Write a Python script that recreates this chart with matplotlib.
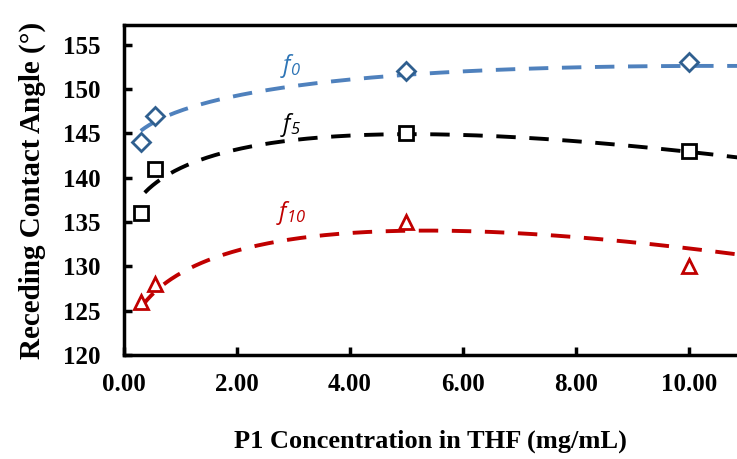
import numpy as np
import matplotlib.pyplot as plt

plt.rcParams["mathtext.fontset"] = "custom"
plt.rcParams["mathtext.rm"] = "Open Sans:italic"
plt.rcParams["mathtext.it"] = "Open Sans:italic"

# datos
conc = [0.3, 0.55, 5.0, 10.0]
f0 = [144, 147, 152, 153]
f5 = [136, 141, 145, 143]
f10 = [126, 128, 135, 130]

# líneas de tendencia: y = a + b*sqrt(x) + c*x
tend_f0 = [141.98, 6.583, -1.019]
tend_f5 = [132.53, 10.97, -2.431]
tend_f10 = [119.05, 12.94, -2.796]
inicio = [0.3, 0.37, 0.3]

series = [
    ("f_{0}", f0, tend_f0, "D", "#2f5f8f", "#4f81bd", "#2e75b6", 152.6),
    ("f_{5}", f5, tend_f5, "s", "black", "black", "black", 145.9),
    ("f_{10}", f10, tend_f10, "^", "#c00000", "#c00000", "#c00000", 136.0),
]

fig, ax = plt.subplots(figsize=(7.37, 4.59), dpi=100)
fig.subplots_adjust(left=0.168, right=1.0, top=0.945, bottom=0.227)

for (nombre, y, (a, b, c), m, c_mark, c_line, c_txt, ylab), x0 in zip(series, inicio):
    xs = np.linspace(x0, 11, 300)
    ax.plot(xs, a + b * np.sqrt(xs) + c * xs, linestyle=(0, (5, 3.5)),
            color=c_line, lw=2.8)
    ax.plot(conc, y, linestyle="none", marker=m, markersize=10 if m != "D" else 9,
            markerfacecolor="white", markeredgecolor=c_mark, markeredgewidth=2)
    ax.text(2.95, ylab, f"${nombre}$", color=c_txt, fontsize=17,
            ha="center", va="center")

ax.set_xlim(0, 10.85)
ax.set_ylim(120, 157.2)
ax.set_xticks(np.arange(0, 11, 2))
ax.set_xticklabels([f"{v:.2f}" for v in np.arange(0, 11, 2)])
ax.set_yticks(np.arange(120, 156, 5))

for s in ["left", "bottom", "top"]:
    ax.spines[s].set_linewidth(2.5)
ax.spines["right"].set_visible(False)
ax.tick_params(direction="in", length=6, width=2.5)
ax.tick_params(axis="y", pad=17)
ax.tick_params(axis="x", pad=13)

for lab in ax.get_xticklabels() + ax.get_yticklabels():
    lab.set_fontfamily("Liberation Serif")
    lab.set_fontweight("bold")
    lab.set_fontsize(18)

ax.set_ylabel("Receding Contact Angle (°)", fontfamily="Liberation Serif",
              fontweight="bold", fontsize=21, labelpad=12)
ax.set_xlabel("P1 Concentration in THF (mg/mL)", fontfamily="Liberation Serif",
              fontweight="bold", fontsize=19, labelpad=24)

plt.savefig("out.png", dpi=100)
